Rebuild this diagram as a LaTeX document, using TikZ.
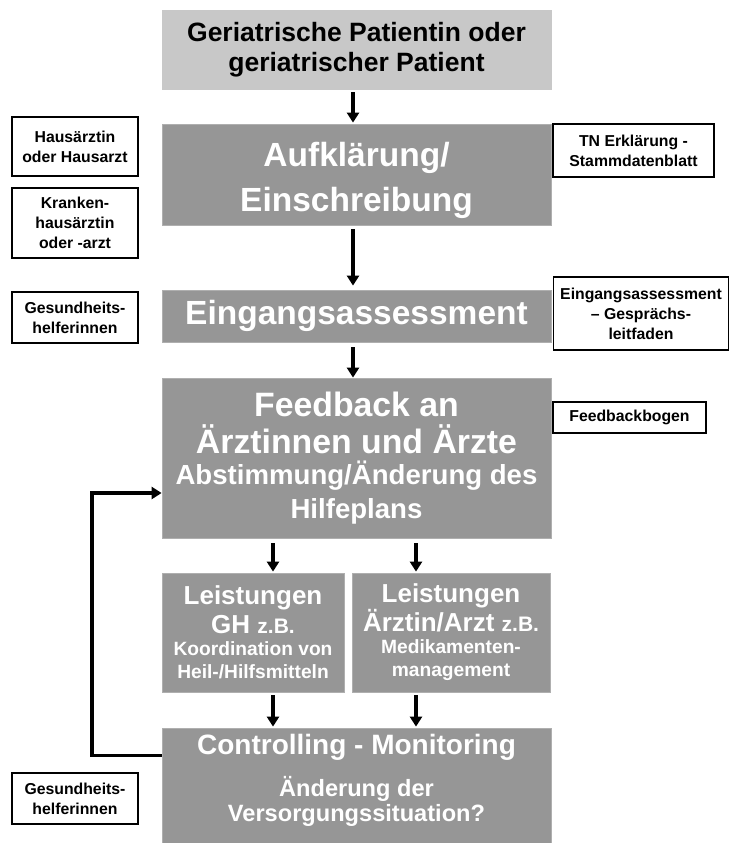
\documentclass[tikz,border=0pt]{standalone}
\usepackage{fontspec}
\setmainfont{Liberation Sans}
\usetikzlibrary{arrows.meta}
\definecolor{boxdark}{RGB}{150,150,150}
\definecolor{boxlight}{RGB}{200,200,200}
\definecolor{boxedge}{RGB}{175,175,175}
\newcommand{\fs}[2]{\fontsize{#1}{#2}\selectfont}
\begin{document}
\begin{tikzpicture}[x=1pt,y=-1pt,
  mainbox/.style={fill=boxdark, draw=boxedge, line width=0.8pt, text=white,
    align=center, inner sep=0pt},
  topbox/.style={mainbox, fill=boxlight, draw=boxlight, text=black},
  sidebox/.style={draw=black, line width=1.8pt, fill=white, text=black, align=center,
    inner sep=0pt, font=\fs{15.8}{20}\bfseries},
  flow/.style={line width=3.6pt, -{Triangle[width=12pt,length=10pt]}},
]
\useasboundingbox (0,0) rectangle (731,843);
\fill[white] (0,0) rectangle (731,843);

% main column
\node[topbox, font=\fs{26.5}{30}\bfseries, minimum width=389pt, minimum height=79pt] (top) at (356.5,49.5)
  {Geriatrische Patientin oder\\geriatrischer Patient};
\node[mainbox, font=\fs{33.5}{45}\bfseries, minimum width=389pt, minimum height=101pt] (auf) at (356.5,174.5)
  {\rule{0pt}{37pt}Aufklärung/\\Einschreibung};
\node[mainbox, font=\fs{33.5}{38}\bfseries, minimum width=389pt, minimum height=52pt] (ein) at (356.5,316)
  {Eingangsassessment};
\node[mainbox, font=\fs{33.8}{37}\bfseries, minimum width=389pt, minimum height=160pt] (fb) at (356.5,458)
  {Feedback an\\Ärztinnen und Ärzte\\[-6pt]%
   {\fs{27.6}{33}Abstimmung/Änderung des}\\[-3pt]%
   {\fs{27.6}{33}Hilfeplans}};
\node[mainbox, font=\fs{26}{29}\bfseries, minimum width=182pt, minimum height=119pt] (lgh) at (253,632.5)
  {Leistungen\\GH {\fs{21}{29}z.B.}\\[-7pt]%
   {\fs{19.2}{23}Koordination von}\\[-6pt]%
   {\fs{19.2}{23}Heil-/Hilfsmitteln}};
\node[mainbox, font=\fs{26}{29}\bfseries, minimum width=198pt, minimum height=119pt] (lae) at (451,632.5)
  {Leistungen\\Ärztin/Arzt {\fs{21}{29}z.B.}\\[-7pt]%
   {\fs{19.2}{23}Medikamenten-}\\[-6pt]%
   {\fs{19.2}{23}management}};
\node[mainbox, font=\fs{28}{42}\bfseries, minimum width=389pt, minimum height=115pt] (ctl) at (356.5,785.5)
  {Controlling - Monitoring\\%
   {\fs{23.6}{27}Änderung der}\\[-17pt]%
   {\fs{23.6}{27}Versorgungssituation?\rule[-15pt]{0pt}{15pt}}};

% side boxes left
\node[sidebox, minimum width=126pt, minimum height=59pt] (hausarzt) at (75,146.5)
  {Hausärztin\\oder Hausarzt};
\node[sidebox, minimum width=126pt, minimum height=70pt] (kranken) at (75,223)
  {Kranken-\\hausärztin\\oder -arzt};
\node[sidebox, minimum width=126pt, minimum height=51pt] (gh1) at (75,317.5)
  {Gesundheits-\\helferinnen};
\node[sidebox, minimum width=126pt, minimum height=51pt] (gh2) at (75,798.5)
  {Gesundheits-\\helferinnen};

% side boxes right
\node[sidebox, minimum width=161pt, minimum height=53pt] (tn) at (633.5,150.5)
  {TN Erklärung -\\Stammdatenblatt};
\node[sidebox, minimum width=175pt, minimum height=73pt] (leitfaden) at (641,313.5)
  {Eingangsassessment\\– Gesprächs-\\leitfaden};
\node[sidebox, minimum width=153pt, minimum height=31pt] (bogen) at (629.5,417.5)
  {Feedbackbogen};

% connectors
\draw[flow, shorten <=3pt, shorten >=1pt] ([xshift=-3.5pt]top.south) -- ([xshift=-3.5pt]auf.north);
\draw[flow, shorten <=4pt, shorten >=4pt] ([xshift=-3.5pt]auf.south) -- ([xshift=-3.5pt]ein.north);
\draw[flow, shorten <=5pt, shorten >=0pt] ([xshift=-3.5pt]ein.south) -- ([xshift=-3.5pt]fb.north);

\coordinate (ga) at ([xshift=20pt]lgh.north);
\coordinate (gb) at ([xshift=-35pt]lae.north);
\draw[flow, shorten <=5pt, shorten >=1pt] (ga |- fb.south) -- (ga);
\draw[flow, shorten <=5pt, shorten >=1pt] (gb |- fb.south) -- (gb);
\draw[flow, shorten <=3pt, shorten >=1pt] ([xshift=20pt]lgh.south) -- ([xshift=20pt]lgh.south |- ctl.north);
\draw[flow, shorten <=3pt, shorten >=1pt] ([xshift=-35pt]lae.south) -- ([xshift=-35pt]lae.south |- ctl.north);

\coordinate (loopx) at (92,0);
\coordinate (c1) at ([yshift=30pt]ctl.west);
\coordinate (f1) at ([yshift=-35pt]fb.west);
\draw[flow, line join=miter] (c1) -- (c1 -| loopx) |- (f1);
\end{tikzpicture}
\end{document}
